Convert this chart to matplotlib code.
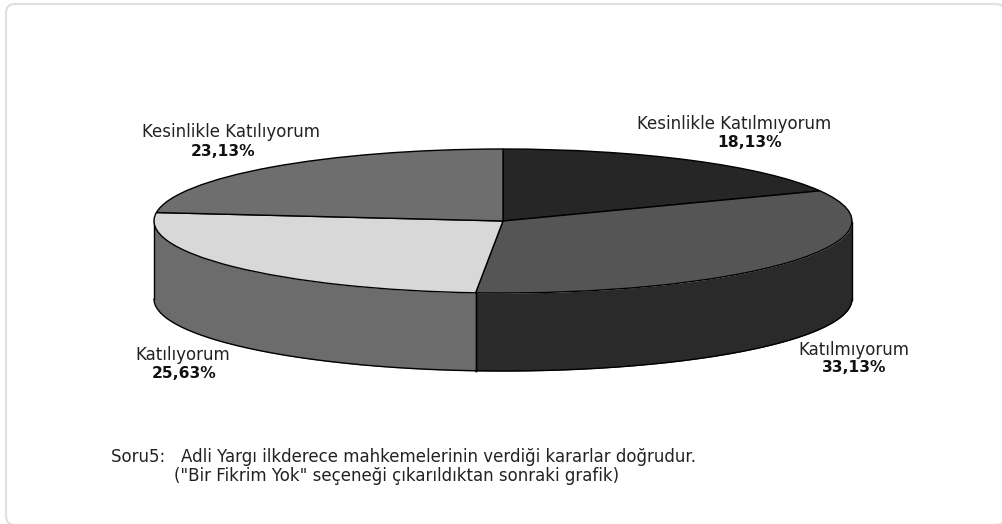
"""3D-look pie of survey answers (Soru5), stretched pie plus a side wall."""

import matplotlib
matplotlib.use("Agg")
import matplotlib.pyplot as plt
import numpy as np
from matplotlib.patches import FancyBboxPatch

labels = ["Kesinlikle Katılmıyorum", "Katılmıyorum", "Katılıyorum", "Kesinlikle Katılıyorum"]
values = [18.13, 33.13, 25.63, 23.13]
value_labels = ["18,13%", "33,13%", "25,63%", "23,13%"]
top_colors = ["#262626", "#555555", "#d8d8d8", "#6e6e6e"]
side_colors = ["#1c1c1c", "#2a2a2a", "#6c6c6c", "#6c6c6c"]
note_1 = "Soru5:   Adli Yargı ilkderece mahkemelerinin verdiği kararlar doğrudur."
note_2 = '("Bir Fikrim Yok" seçeneği çıkarıldıktan sonraki grafik)'

W, H = 1002, 524
CX, CY = 503, 221  # pie centre, px from top left
RX, RY = 349, 72
DEPTH = 78 / RY    # wall height in units of RY

# The reference text is stretched sideways, DejaVu is the closest in width
plt.rcParams["font.family"] = ["DejaVu Sans"]

fig = plt.figure(figsize=(W / 100, H / 100), dpi=100)
ax = fig.add_axes([0, 0, 1, 1])

# Card behind the chart, right and bottom edges fall off the canvas
bg = fig.add_axes([0, 0, 1, 1], zorder=-1)
bg.set_xlim(0, W)
bg.set_ylim(H, 0)
bg.axis("off")
bg.add_patch(FancyBboxPatch((14, 12), 983, 505, boxstyle="round,pad=8,rounding_size=9",
                            fc="white", ec="#e2e0e0", lw=1.6))

ax.patch.set_visible(False)

# Side wall first, only the part of each slice facing the viewer
fr = np.cumsum([0] + values) / sum(values)
for i in range(len(values)):
    t = np.linspace(fr[i], fr[i + 1], 200) * 2 * np.pi
    t = t[(t >= np.pi / 2) & (t <= 3 * np.pi / 2)]  # clockwise from the top
    if t.size == 0:
        continue
    x = np.sin(t)
    y = np.cos(t)
    ax.fill_between(x, y, y - DEPTH, color=side_colors[i], lw=0, zorder=1)
    ax.plot(x, y - DEPTH, color="black", lw=1.0, zorder=2)
    ax.plot([x[0], x[0]], [y[0], y[0] - DEPTH], color="black", lw=1.0, zorder=2)
    ax.plot([x[-1], x[-1]], [y[-1], y[-1] - DEPTH], color="black", lw=1.0, zorder=2)

wedges, _ = ax.pie(values, colors=top_colors, startangle=90, counterclock=False, radius=1,
                   frame=True, wedgeprops={"ec": "black", "lw": 1.0, "zorder": 3})

# The pie sets an equal aspect; stretch it to the flat ellipse instead
ax.set_aspect("auto")
ax.set_xlim(-CX / RX, (W - CX) / RX)
ax.set_ylim(-(H - CY) / RY, CY / RY)
ax.axis("off")

# label x, label y, value x, value y in px
label_pos = [(734, 124, 750, 143), (854, 350, 854, 368), (183, 355, 184, 374), (231, 132, 223, 151)]
for (lx, ly, vx, vy), name, val in zip(label_pos, labels, value_labels):
    fig.text(lx / W, 1 - ly / H, name, ha="center", va="center", fontsize=12, color="#222222")
    fig.text(vx / W, 1 - vy / H, val, ha="center", va="center", fontsize=11.2,
             fontweight="bold", color="#111111")

fig.text(111 / W, 1 - 457 / H, note_1, ha="left", va="center", fontsize=12, color="#222222")
fig.text(174 / W, 1 - 476 / H, note_2, ha="left", va="center", fontsize=12, color="#222222")

fig.savefig("out.png", dpi=100, facecolor="white")
